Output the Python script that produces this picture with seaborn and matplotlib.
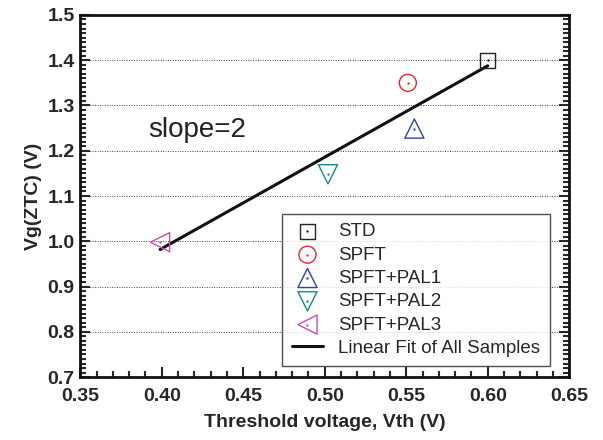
import numpy as np
import pandas as pd
import seaborn as sns
import matplotlib.pyplot as plt
from matplotlib.ticker import MultipleLocator

# Datos
muestras = ['STD', 'SPFT', 'SPFT+PAL1', 'SPFT+PAL2', 'SPFT+PAL3']
vth = [0.600, 0.551, 0.555, 0.502, 0.399]
vg_ztc = [1.400, 1.350, 1.249, 1.148, 0.998]
marcadores = ['s', 'o', '^', 'v', '<']
colores = ['#222222', '#e8262c', '#2d45a0', '#128a8a', '#c24fb4']
tamanos = [120, 150, 190, 190, 190]

df = pd.DataFrame({'Vth': vth, 'Vg': vg_ztc, 'Muestra': muestras})

sns.set_style('ticks')
plt.rcParams['font.family'] = ['Liberation Sans', 'DejaVu Sans']

fig = plt.figure(figsize=(6.03, 4.4), dpi=100)
ax = fig.add_axes([0.133, 0.143, 0.811, 0.823])

handles = []
for m, x, y, mk, c, s in zip(muestras, vth, vg_ztc, marcadores, colores, tamanos):
    sns.scatterplot(x=[x], y=[y], marker=mk, s=s, ax=ax, label=m, zorder=3)
    coll = ax.collections[-1]
    coll.set_facecolor('none')
    coll.set_edgecolor(c)
    coll.set_linewidth(1.0)
    dot = ax.scatter([x], [y], marker='.', s=2, color=c, zorder=4)
    handles.append((coll, dot))

# Ajuste lineal de todas las muestras
sns.regplot(data=df, x='Vth', y='Vg', scatter=False, ci=None, truncate=True,
            line_kws={'color': '#111111', 'lw': 2.2}, ax=ax)
linea = ax.lines[-1]
handles.append(linea)

ax.set_xlim(0.35, 0.65)
ax.set_ylim(0.7, 1.5)
ax.xaxis.set_major_locator(MultipleLocator(0.05))
ax.xaxis.set_minor_locator(MultipleLocator(0.01))
ax.yaxis.set_major_locator(MultipleLocator(0.1))
ax.yaxis.set_minor_locator(MultipleLocator(0.01))
ax.xaxis.set_major_formatter(lambda v, p: f'{v:.2f}')
ax.yaxis.set_major_formatter(lambda v, p: f'{v:.1f}')

ax.grid(axis='y', which='major', linestyle=(0, (1, 1.5)), color='#444444', lw=0.7)
ax.tick_params(which='both', direction='in', top=False, right=True, width=1.5)
ax.tick_params(which='major', length=7, labelsize=14)
ax.tick_params(which='minor', length=4)
ax.tick_params(axis='x', pad=8)
ax.tick_params(axis='y', pad=4)
for lab in ax.get_xticklabels() + ax.get_yticklabels():
    lab.set_fontweight('bold')
for sp in ax.spines.values():
    sp.set_linewidth(2)
    sp.set_color('#111111')

ax.set_xlabel('Threshold voltage, Vth (V)', fontsize=14, fontweight='bold', labelpad=6)
ax.set_ylabel('Vg(ZTC) (V)', fontsize=14, fontweight='bold', labelpad=4)

ax.text(0.392, 1.245, 'slope=2', fontsize=20, ha='left', va='center', color='#222222')

leg = ax.legend(handles, muestras + ['Linear Fit of All Samples'],
                loc='lower left', bbox_to_anchor=(0.413, 0.03), borderaxespad=0,
                fontsize=13.5, frameon=True, fancybox=False, edgecolor='#222222',
                labelspacing=0.33, handlelength=1.7, handletextpad=0.8,
                borderpad=0.5)
leg.get_frame().set_linewidth(1.0)

fig.savefig('out.png', dpi=100)
